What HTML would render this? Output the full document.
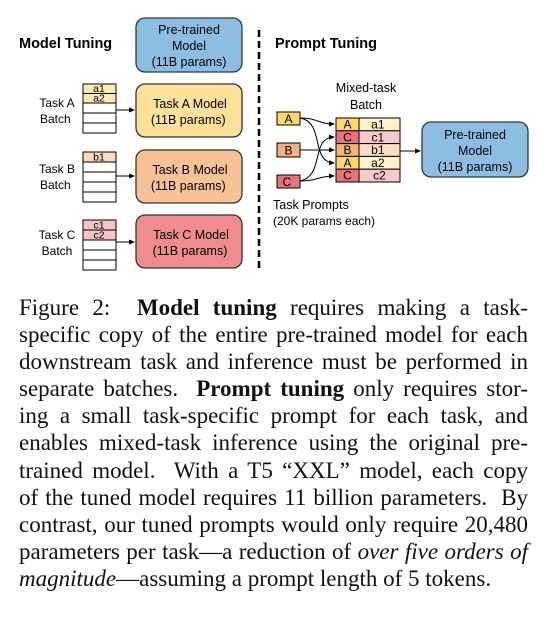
<!DOCTYPE html>
<html><head><meta charset="utf-8"><style>
body{margin:0;background:#fff;width:544px;height:621px;overflow:hidden;position:relative}
svg{position:absolute;left:0;top:0}
svg text{font-family:"Liberation Sans",sans-serif}
.cap{position:absolute;left:19px;top:294px;width:509px;font-family:"Liberation Serif",serif;font-size:23px;color:#111}
.cap div{height:27.1px;line-height:27.1px;text-align:justify;text-align-last:justify;white-space:nowrap}
.cap div.last{text-align-last:left}
</style></head><body>
<svg width="544" height="290" viewBox="0 0 544 290">
<defs><marker id="ar" markerWidth="6" markerHeight="6" refX="5" refY="3" orient="auto"><path d="M0,0.5 L6,3 L0,5.5z" fill="#000"/></marker></defs>
<text x="19" y="48" font-size="14.5" font-weight="bold">Model Tuning</text>
<rect x="136" y="18" width="106" height="54" rx="9" fill="#8BBEE0" stroke="#2b3a48" stroke-width="1.3"/>
<text font-size="12.5" text-anchor="middle"><tspan x="189" y="34">Pre-trained</tspan><tspan x="189" y="50">Model</tspan><tspan x="189" y="66">(11B params)</tspan></text>
<g stroke="#333" stroke-width="1.3">
<rect x="136" y="84" width="106" height="53" rx="9" fill="#FFE199"/>
<rect x="136" y="150" width="106" height="53" rx="9" fill="#F9C295"/>
<rect x="136" y="215" width="106" height="53" rx="9" fill="#F08C8F"/>
</g>
<text font-size="12.5" text-anchor="middle"><tspan x="190" y="108">Task A Model</tspan><tspan x="190" y="124">(11B params)</tspan>
<tspan x="190" y="174">Task B Model</tspan><tspan x="190" y="190">(11B params)</tspan>
<tspan x="191" y="239">Task C Model</tspan><tspan x="190" y="255">(11B params)</tspan></text>
<text font-size="12" text-anchor="middle"><tspan x="57" y="107">Task A</tspan><tspan x="57" y="123">Batch</tspan>
<tspan x="57" y="173">Task B</tspan><tspan x="57" y="189">Batch</tspan>
<tspan x="57" y="239">Task C</tspan><tspan x="57" y="255">Batch</tspan></text>
<g stroke="#000" stroke-width="1" fill="#fff">
<rect x="83" y="84" width="33" height="9.5" fill="#FFEBB5"/><rect x="83" y="93.5" width="33" height="9.5" fill="#FFEBB5"/>
<rect x="83" y="103" width="33" height="10"/><rect x="83" y="113" width="33" height="10"/><rect x="83" y="123" width="33" height="10"/>
<rect x="83" y="152" width="33" height="10" fill="#FDD9BE"/><rect x="83" y="162" width="33" height="10"/><rect x="83" y="172" width="33" height="10"/><rect x="83" y="182" width="33" height="10"/><rect x="83" y="192" width="33" height="10"/>
<rect x="83" y="220" width="33" height="10" fill="#F8C3C6"/><rect x="83" y="230" width="33" height="10" fill="#F8C3C6"/><rect x="83" y="240" width="33" height="10"/><rect x="83" y="250" width="33" height="10"/><rect x="83" y="260" width="33" height="10"/>
</g>
<text font-size="10.5" text-anchor="middle"><tspan x="99" y="92">a1</tspan><tspan x="99" y="101.5">a2</tspan><tspan x="99" y="160.5">b1</tspan><tspan x="99" y="228.5">c1</tspan><tspan x="99" y="238.5">c2</tspan></text>
<g stroke="#000" stroke-width="1" marker-end="url(#ar)">
<line x1="116" y1="110" x2="134" y2="110"/><line x1="116" y1="176" x2="134" y2="176"/><line x1="116" y1="242" x2="134" y2="242"/>
</g>
<line x1="259" y1="30" x2="259" y2="270" stroke="#000" stroke-width="2.5" stroke-dasharray="7,4"/>
<text x="275" y="48" font-size="14.5" font-weight="bold">Prompt Tuning</text>
<text font-size="12.5" text-anchor="middle"><tspan x="366" y="92">Mixed-task</tspan><tspan x="366" y="109">Batch</tspan></text>
<g stroke="#000" stroke-width="1">
<rect x="277" y="112" width="23" height="13" fill="#FFD76B"/>
<rect x="277" y="143" width="23" height="14" fill="#F7B27A"/>
<rect x="277" y="175" width="23" height="13" fill="#E8737A"/>
<rect x="336" y="118" width="23" height="12.8" fill="#FFD76B"/><rect x="359" y="118" width="41" height="12.8" fill="#FFF1C8"/>
<rect x="336" y="130.8" width="23" height="12.8" fill="#E8737A"/><rect x="359" y="130.8" width="41" height="12.8" fill="#F9C8CB"/>
<rect x="336" y="143.6" width="23" height="12.8" fill="#F7B27A"/><rect x="359" y="143.6" width="41" height="12.8" fill="#FDDCC3"/>
<rect x="336" y="156.4" width="23" height="12.8" fill="#FFD76B"/><rect x="359" y="156.4" width="41" height="12.8" fill="#FFF1C8"/>
<rect x="336" y="169.2" width="23" height="12.8" fill="#E8737A"/><rect x="359" y="169.2" width="41" height="12.8" fill="#F9C8CB"/>
</g>
<text font-size="12" text-anchor="middle"><tspan x="288.5" y="123">A</tspan><tspan x="288.5" y="154.5">B</tspan><tspan x="288.5" y="186">C</tspan>
<tspan x="347.5" y="128.5">A</tspan><tspan x="379.5" y="128.5">a1</tspan>
<tspan x="347.5" y="141.3">C</tspan><tspan x="379.5" y="141.3">c1</tspan>
<tspan x="347.5" y="154.1">B</tspan><tspan x="379.5" y="154.1">b1</tspan>
<tspan x="347.5" y="166.9">A</tspan><tspan x="379.5" y="166.9">a2</tspan>
<tspan x="347.5" y="179.7">C</tspan><tspan x="379.5" y="179.7">c2</tspan></text>
<g stroke="#000" stroke-width="1" fill="none" marker-end="url(#ar)">
<path d="M300,118 C318,118 318,124 334,124"/>
<path d="M300,118 C325,122 310,162 334,163"/>
<path d="M300,150 L334,150"/>
<path d="M300,181 C318,181 318,176 334,176"/>
<path d="M300,181 C325,176 310,138 334,137"/>
<line x1="400" y1="151" x2="420" y2="151"/>
</g>
<rect x="422" y="122" width="106" height="55" rx="9" fill="#8BBEE0" stroke="#2b3a48" stroke-width="1.3"/>
<text font-size="12.5" text-anchor="middle"><tspan x="475" y="139">Pre-trained</tspan><tspan x="475" y="155">Model</tspan><tspan x="475" y="171">(11B params)</tspan></text>
<text font-size="12.5"><tspan x="273" y="209">Task Prompts</tspan><tspan x="273" y="225" font-size="12">(20K params each)</tspan></text>
</svg>
<div class="cap">
<div>Figure 2:&nbsp; <b>Model tuning</b> requires making a task-</div>
<div>specific copy of the entire pre-trained model for each</div>
<div>downstream task and inference must be performed in</div>
<div>separate batches.&nbsp; <b>Prompt tuning</b> only requires stor-</div>
<div>ing a small task-specific prompt for each task, and</div>
<div>enables mixed-task inference using the original pre-</div>
<div>trained model.&nbsp; With a T5 “XXL” model, each copy</div>
<div>of the tuned model requires 11 billion parameters.&nbsp; By</div>
<div>contrast, our tuned prompts would only require 20,480</div>
<div>parameters per task—a reduction of <i>over five orders of</i></div>
<div class="last"><i>magnitude</i>—assuming a prompt length of 5 tokens.</div>
</div>
</body></html>
